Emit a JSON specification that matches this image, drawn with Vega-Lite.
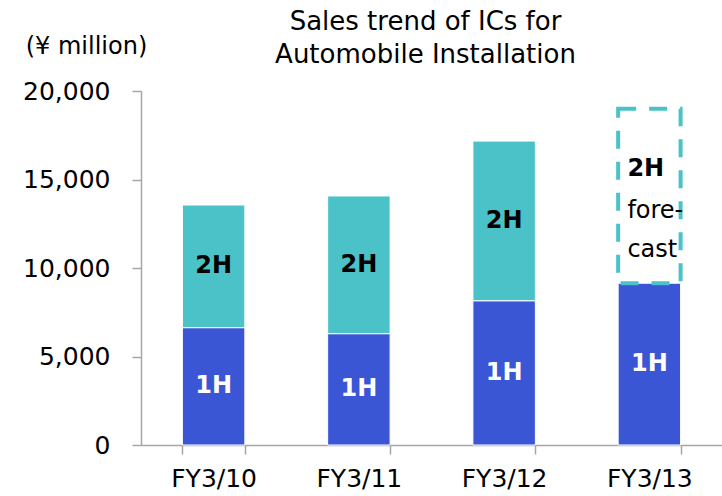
{
  "$schema": "https://vega.github.io/schema/vega-lite/v6.json",
  "width": 581,
  "height": 354,
  "autosize": {"type": "none"},
  "padding": {"left": 141, "top": 91, "right": 0, "bottom": 51},
  "background": "white",
  "config": {"view": {"stroke": null}, "font": "DejaVu Sans"},
  "title": {
    "text": ["Sales trend of ICs for", "Automobile Installation"],
    "font": "DejaVu Sans",
    "fontSize": 26,
    "fontWeight": "normal",
    "color": "black",
    "lineHeight": 33,
    "anchor": "middle",
    "frame": "group",
    "dx": -6,
    "dy": 42,
    "offset": 8
  },
  "data": {
    "values": [
      {"year": "FY3/10", "half": "1H", "value": 6630},
      {"year": "FY3/10", "half": "2H", "value": 6930},
      {"year": "FY3/11", "half": "1H", "value": 6290},
      {"year": "FY3/11", "half": "2H", "value": 7780},
      {"year": "FY3/12", "half": "1H", "value": 8150},
      {"year": "FY3/12", "half": "2H", "value": 9020},
      {"year": "FY3/13", "half": "1H", "value": 9140},
      {"year": "FY3/13", "half": "2H forecast", "value": 9860}
    ]
  },
  "transform": [
    {"stack": "value", "groupby": ["year"], "sort": [{"field": "half", "order": "ascending"}], "as": ["y0", "y1"]}
  ],
  "encoding": {
    "x": {
      "field": "year",
      "type": "nominal",
      "scale": {"paddingInner": 0.57, "paddingOuter": 0.285},
      "axis": {
        "title": null,
        "labelAngle": 0,
        "labelFont": "DejaVu Sans",
        "labelFontSize": 25,
        "labelColor": "black",
        "labelPadding": 12,
        "tickSize": 9,
        "tickBand": "extent",
        "domainColor": "#A6A6A6",
        "tickColor": "#A6A6A6",
        "domainWidth": 1.5,
        "tickWidth": 1.5
      }
    }
  },
  "layer": [
    {
      "transform": [{"filter": "datum.half != '2H forecast'"}],
      "mark": {"type": "bar", "stroke": "white", "strokeWidth": 1},
      "encoding": {
        "y": {
          "field": "y0",
          "type": "quantitative",
          "title": "(¥ million)",
          "scale": {"domain": [0, 20000], "nice": false},
          "axis": {
            "values": [0, 5000, 10000, 15000, 20000],
            "format": ",.0f",
            "formatType": "number",
            "grid": false,
            "labelFont": "DejaVu Sans",
            "labelFontSize": 25,
            "labelColor": "black",
            "labelPadding": 22,
            "tickSize": 9,
            "domainColor": "#A6A6A6",
            "tickColor": "#A6A6A6",
            "domainWidth": 1.5,
            "tickWidth": 1.5,
            "titleFont": "DejaVu Sans",
            "titleFontSize": 24,
            "titleFontWeight": "normal",
            "titleColor": "black",
            "titleAngle": 0,
            "titleAlign": "center",
            "titleBaseline": "middle",
            "titleX": -55,
            "titleY": -45
          }
        },
        "y2": {"field": "y1"},
        "color": {
          "field": "half",
          "type": "nominal",
          "scale": {"domain": ["1H", "2H"], "range": ["#3A56D4", "#4AC2C8"]},
          "legend": null
        }
      }
    },
    {
      "transform": [{"filter": "datum.half == '2H forecast'"}],
      "mark": {"type": "bar", "filled": false, "stroke": "#4AC2C8", "strokeWidth": 4, "strokeDash": [18, 13]},
      "encoding": {
        "y": {"field": "y0", "type": "quantitative", "title": "(¥ million)"},
        "y2": {"field": "y1"}
      }
    },
    {
      "transform": [{"filter": "datum.half == '1H'"}, {"fold": ["y0", "y1"], "as": ["k", "v"]}],
      "mark": {"type": "text", "font": "DejaVu Sans", "fontSize": 24, "fontWeight": "bold", "color": "white", "baseline": "middle"},
      "encoding": {
        "y": {"aggregate": "mean", "field": "v", "type": "quantitative", "title": "(¥ million)", "stack": null},
        "text": {"field": "half", "type": "nominal"}
      }
    },
    {
      "transform": [{"filter": "datum.half == '2H'"}, {"fold": ["y0", "y1"], "as": ["k", "v"]}],
      "mark": {"type": "text", "font": "DejaVu Sans", "fontSize": 24, "fontWeight": "bold", "color": "black", "baseline": "middle"},
      "encoding": {
        "y": {"aggregate": "mean", "field": "v", "type": "quantitative", "title": "(¥ million)", "stack": null},
        "text": {"field": "half", "type": "nominal"}
      }
    },
    {
      "transform": [{"filter": "datum.half == '2H forecast'"}, {"fold": ["y0", "y1"], "as": ["k", "v"]}],
      "encoding": {
        "y": {"aggregate": "mean", "field": "v", "type": "quantitative", "title": "(¥ million)", "stack": null}
      },
      "layer": [
        {
          "mark": {"type": "text", "font": "DejaVu Sans", "fontSize": 24, "fontWeight": "bold", "color": "black", "baseline": "alphabetic", "align": "left", "dx": -22, "dy": -20},
          "encoding": {"text": {"value": "2H"}}
        },
        {
          "mark": {"type": "text", "font": "DejaVu Sans", "fontSize": 24, "fontWeight": "normal", "color": "black", "baseline": "alphabetic", "align": "left", "dx": -22, "dy": 22},
          "encoding": {"text": {"value": "fore-"}}
        },
        {
          "mark": {"type": "text", "font": "DejaVu Sans", "fontSize": 24, "fontWeight": "normal", "color": "black", "baseline": "alphabetic", "align": "left", "dx": -22, "dy": 61},
          "encoding": {"text": {"value": "cast"}}
        }
      ]
    }
  ]
}
